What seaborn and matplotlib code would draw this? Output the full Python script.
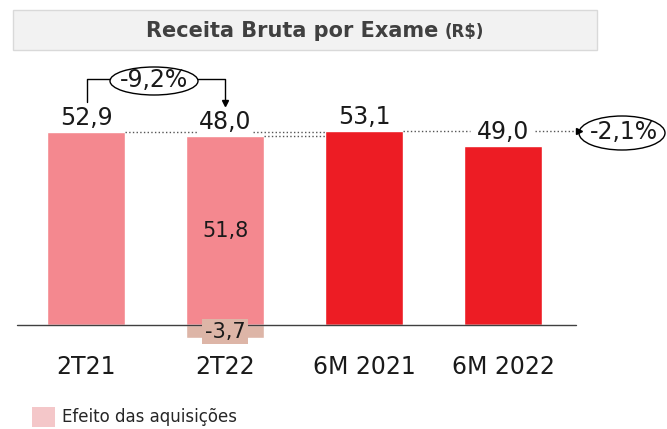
import seaborn as sns
import pandas as pd
import matplotlib.pyplot as plt
from matplotlib.patches import Rectangle, Ellipse
from matplotlib.lines import Line2D
from matplotlib.transforms import Affine2D


categories = ["2T21", "2T22", "6M 2021", "6M 2022"]
bar_values = [52.9, 51.8, 53.1, 49.0]
total_labels = ["52,9", "48,0", "53,1", "49,0"]
acq_values = [0.0, -3.7, 0.0, 0.0]
acq_label = "-3,7"
organic_label = "51,8"
bar_colors = ["#F4888F", "#F4888F", "#ED1C24", "#ED1C24"]
acq_color = "#DDB5A7"
legend_color = "#F4C7C9"
var_quarter = "-9,2%"
var_semester = "-2,1%"

sns.set_style("white")
plt.rcParams['font.family'] = ['DejaVu Sans']

W, H = 667, 429
fig = plt.figure(figsize=(W / 100, H / 100), dpi=100)
ax = fig.add_axes([0, 0, 1, 1])
# pixel coords measured from the top-left corner
T = Affine2D().scale(1 / W, -1 / H).translate(0, 1) + fig.transFigure

df = pd.DataFrame({"cat": categories, "valor": bar_values})
sns.barplot(data=df, x="cat", y="valor", hue="cat", palette=bar_colors,
            width=0.555, saturation=1, errorbar=None, legend=False, ax=ax)
df_acq = pd.DataFrame({"cat": categories, "valor": acq_values})
sns.barplot(data=df_acq, x="cat", y="valor", color=acq_color,
            width=0.555, saturation=1, errorbar=None, ax=ax)

px_unit = 3.648
ax.set_xlim(-86 / 139, (W - 86) / 139)
ax.set_ylim(-104 / px_unit, 325 / px_unit)
ax.axis('off')
ax.axhline(0, xmin=17 / W, xmax=576 / W, color="#404040", lw=1)

txt = "#1a1a1a"
for i, (h, lab) in enumerate(zip(bar_values, total_labels)):
    ax.annotate(lab, (i, h), xytext=(0, 10), textcoords="offset points",
                ha="center", va="center", fontsize=17, color=txt)
    ax.annotate(categories[i], (i, 0), xytext=(0, -30), textcoords="offset points",
                ha="center", va="center", fontsize=17, color=txt)

ax.text(1, bar_values[1] / 2, organic_label, ha="center", va="center",
        fontsize=15, color=txt)
ax.text(1, acq_values[1] / 2, acq_label, ha="center", va="center", fontsize=15,
        color=txt, bbox=dict(facecolor=acq_color, edgecolor="none", pad=2))

# dotted guide lines
hw = 0.555 / 2
dot = dict(color="#555555", lw=1, ls=":")
ax.plot([hw, 0.8], [bar_values[0]] * 2, **dot)
ax.plot([1.2, 2 - hw], [bar_values[0]] * 2, **dot)
ax.plot([1 + hw, 2 - hw], [bar_values[1]] * 2, **dot)
ax.plot([2 + hw, 2.76], [bar_values[2]] * 2, **dot)
ax.plot([3.23, 3.53], [bar_values[2]] * 2, **dot)
ax.plot([3.55], [bar_values[2]], marker=">", markersize=4, color="black")

# title box
fig.add_artist(Rectangle((13, 10), 584, 40, transform=T, facecolor="#F2F2F2",
                         edgecolor="#D9D9D9", lw=1))
fig.text(438, 31, "Receita Bruta por Exame", transform=T, ha="right", va="center",
         fontsize=15, fontweight="bold", color="#404040")
fig.text(445, 32, "(R$)", transform=T, ha="left", va="center",
         fontsize=12, fontweight="bold", color="#404040")

# quarter variation bracket
fig.add_artist(Line2D([87, 87, 110], [102, 79, 79], transform=T, color="black", lw=1))
fig.add_artist(Line2D([198, 225, 225], [79, 79, 101], transform=T, color="black", lw=1))
fig.add_artist(Line2D([225], [103], transform=T, marker="v", markersize=4,
                      color="black"))
fig.add_artist(Ellipse((154, 81), 88, 28, transform=T, fill=False,
                       edgecolor="black", lw=1))
fig.text(154, 80, var_quarter, transform=T, ha="center", va="center",
         fontsize=17, color=txt)

# semester variation
fig.add_artist(Ellipse((622, 133), 86, 34, transform=T, fill=False,
                       edgecolor="black", lw=1))
fig.text(624, 132, var_semester, transform=T, ha="center", va="center",
         fontsize=17, color=txt)

# legend
fig.add_artist(Rectangle((32, 407), 23, 20, transform=T, facecolor=legend_color,
                         edgecolor="none"))
fig.text(62, 417, "Efeito das aquisições", transform=T, ha="left", va="center",
         fontsize=12, color="#262626")

fig.savefig("out.png", dpi=100)
